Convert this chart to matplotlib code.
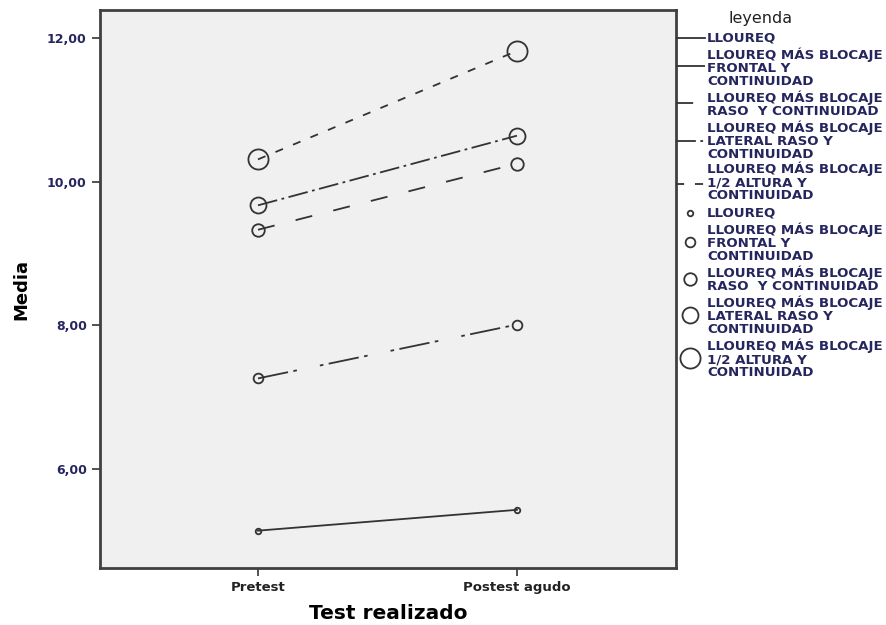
import numpy as np
from matplotlib import pyplot as plt

# Data
tests = ['Pretest', 'Postest agudo']
grupos = ['LLOUREQ',
          'LLOUREQ MÁS BLOCAJE\nFRONTAL Y\nCONTINUIDAD',
          'LLOUREQ MÁS BLOCAJE\nRASO  Y CONTINUIDAD',
          'LLOUREQ MÁS BLOCAJE\nLATERAL RASO Y\nCONTINUIDAD',
          'LLOUREQ MÁS BLOCAJE\n1/2 ALTURA Y\nCONTINUIDAD']
lloureq = [5.14, 5.43]
frontal = [7.26, 8.01]
raso = [9.33, 10.25]
lateral = [9.67, 10.64]
altura = [10.31, 11.82]
yticks = [6, 8, 10, 12]

# Styles
series = [lloureq, frontal, raso, lateral, altura]
dashes = ['-', (0, (17, 3, 2, 13, 2, 3)), (0, (9.5, 12)), (0, (11, 2.5, 1.5, 2.5)), (0, (4.5, 6))]
msizes = [4, 7, 9, 11.5, 14.5]
col = '#333333'
txtcol = '#26265e'

fig = plt.figure(figsize=(8.87, 6.25), dpi=100)
W, H = 887., 625.
ax = fig.add_axes([100/W, 1-568/H, 576/W, 558/H])
ax.set_facecolor('#f0f0f0')

x = np.arange(len(tests))
for vals, ls, ms in zip(series, dashes, msizes):
    ax.plot(x, vals, color=col, lw=1.3, linestyle=ls, marker='o', ms=ms,
            mfc='none', mec=col, mew=1.3)

ax.set_xlim(-0.61, 1.614)
ax.set_ylim(4.62, 12.39)
ax.set_yticks(yticks)
ax.set_yticklabels(['%d,00' % v for v in yticks], fontsize=9, color=txtcol, fontweight='bold')
ax.set_xticks(x)
ax.set_xticklabels(tests, fontsize=9.5, color='#222222', fontweight='bold')
ax.tick_params(direction='out', length=6, width=1.3, color='#444444')
for s in ax.spines.values():
    s.set_color('#404040')
    s.set_linewidth(2)
ax.set_xlabel('Test realizado', fontsize=14.5, fontweight='bold', labelpad=7)
ax.set_ylabel('Media', fontsize=13, fontweight='bold', labelpad=12)

# Legend drawn in its own pixel-like axes at the right
lg = fig.add_axes([676/W, 0, (W-676)/W, 1])
lg.set_xlim(676, W)
lg.set_ylim(H, 0)
lg.axis('off')
lg.text(761, 18, 'leyenda', fontsize=11.5, ha='center', va='center', color='#222222')

line_y = [38, 66, 103, 141, 184]
line_txt = [38, 68, 104, 141, 182]
mark_y = [213, 242, 279, 315, 358]
mark_txt = [213, 243, 279, 316, 359]
for i, g in enumerate(grupos):
    lg.plot([676, 705], [line_y[i], line_y[i]], color=col, lw=1.3, linestyle=dashes[i])
    lg.text(707, line_txt[i], g, fontsize=9.6, va='center', ha='left',
            color=txtcol, linespacing=1.0, fontweight='bold')
    lg.plot([690], [mark_y[i]], marker='o', ms=msizes[i], mfc='none', mec=col, mew=1.3)
    lg.text(707, mark_txt[i], g, fontsize=9.6, va='center', ha='left',
            color=txtcol, linespacing=1.0, fontweight='bold')

plt.savefig('out.png', dpi=100)
